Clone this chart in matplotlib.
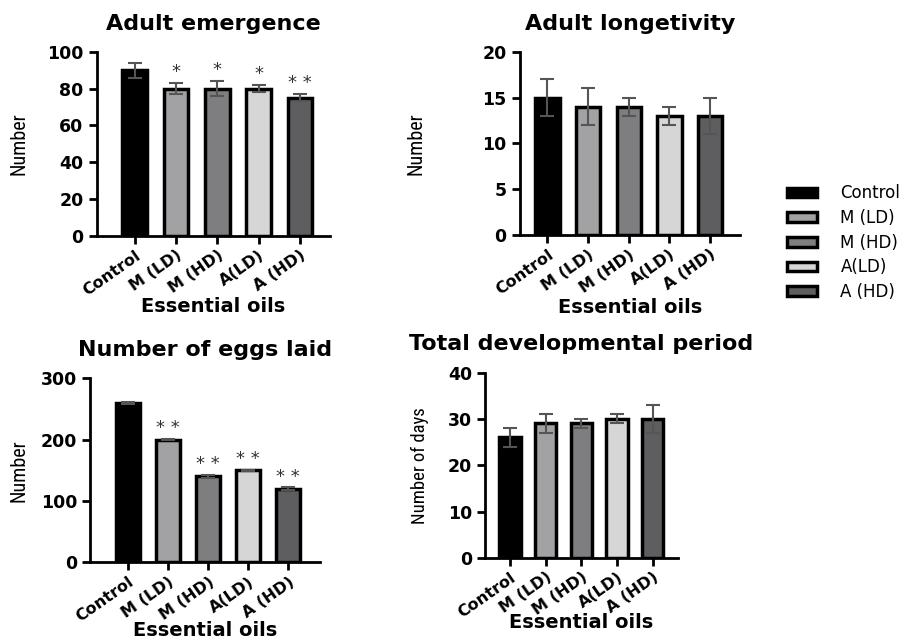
import numpy as np
import matplotlib
matplotlib.use("Agg")
import matplotlib.pyplot as plt
from matplotlib.patches import Patch

# groups and colours
groups = ["Control", "M (LD)", "M (HD)", "A(LD)", "A (HD)"]
colors = ["#000000", "#a2a2a4", "#7e7e80", "#d6d6d6", "#5e5e60"]

# Adult emergence
emerg = [90, 80, 80, 80, 75]
emerg_err = [4, 3, 4, 2, 2]
emerg_sig = ["", "*", "*", "*", "**"]

# Adult longetivity
longev = [15, 14, 14, 13, 13]
longev_err = [2, 2, 1, 1, 2]

# Number of eggs laid
eggs = [260, 200, 140, 150, 120]
eggs_err = [2, 1, 3, 1, 2]
eggs_sig = ["", "**", "**", "**", "**"]

# Total developmental period
devp = [26, 29, 29, 30, 30]
devp_err = [2, 2, 1, 1, 3]

plt.rcParams['font.family'] = ['DejaVu Sans']
narrow = ["Liberation Sans Narrow", "Roboto Condensed", "Liberation Sans", "DejaVu Sans"]

fig = plt.figure(figsize=(9.12, 6.39), dpi=100)


def panel(rect, vals, errs, title, ylabel, ymax, yticks, xlim, xlab_y, ylab_x, ylab_size, sig=None):
    ax = fig.add_axes(rect)
    x = np.arange(len(vals))
    ax.bar(x, vals, width=0.6, color=colors, edgecolor="black", linewidth=2.5, zorder=2)
    ax.errorbar(x, vals, yerr=errs, fmt="none", ecolor="#555555", elinewidth=1.5,
                capsize=5, capthick=1.5, zorder=3)
    if sig:
        for xi, v, e, s in zip(x, vals, errs, sig):
            if s:
                ax.text(xi, v + e + ymax * 0.01, " ".join(s), ha="center", va="bottom",
                        fontsize=13, color="#333333")
    ax.set_ylim(0, ymax)
    ax.set_xlim(*xlim)
    ax.set_yticks(yticks)
    ax.set_xticks(x)
    ax.set_xticklabels(groups, rotation=35, ha="right", rotation_mode="anchor",
                       fontsize=11.5, fontweight="bold")
    for lab in ax.get_yticklabels():
        lab.set_fontweight("bold")
        lab.set_fontsize(12.5)
    for s in ["top", "right"]:
        ax.spines[s].set_visible(False)
    for s in ["left", "bottom"]:
        ax.spines[s].set_linewidth(2)
    ax.tick_params(width=2, length=6)
    ax.tick_params(axis="x", pad=2.5)
    ax.set_xlabel("Essential oils", fontsize=14, fontweight="bold")
    ax.xaxis.set_label_coords(0.5, xlab_y)
    ax.set_ylabel(ylabel, fontsize=ylab_size, family=narrow)
    ax.yaxis.set_label_coords(ylab_x, 0.5)
    ax.set_title(title, fontsize=16, fontweight="bold", pad=16)
    return ax


panel([0.106, 0.631, 0.256, 0.288], emerg, emerg_err, "Adult emergence", "Number",
      100, [0, 20, 40, 60, 80, 100], (-0.92, 4.73), -0.335, -0.29, 14.5, sig=emerg_sig)
panel([0.570, 0.632, 0.241, 0.287], longev, longev_err, "Adult longetivity", "Number",
      20, [0, 5, 10, 15, 20], (-0.68, 4.73), -0.345, -0.43, 14.5)
panel([0.099, 0.120, 0.252, 0.288], eggs, eggs_err, "Number of eggs laid", "Number",
      300, [0, 100, 200, 300], (-0.95, 4.8), -0.32, -0.27, 14.5, sig=eggs_sig)
panel([0.532, 0.127, 0.211, 0.290], devp, devp_err, "Total developmental period",
      "Number of days", 40, [0, 10, 20, 30, 40], (-0.7, 4.7), -0.30, -0.29, 13.5)

handles = [Patch(facecolor=c, edgecolor="black", linewidth=2.5) for c in colors]
fig.legend(handles, groups, loc="center left", bbox_to_anchor=(0.863, 0.62),
           frameon=False, fontsize=12, handlelength=1.8, handleheight=0.5,
           labelspacing=0.4, handletextpad=1.4, borderpad=0, borderaxespad=0)

fig.savefig("out.png", dpi=100)
